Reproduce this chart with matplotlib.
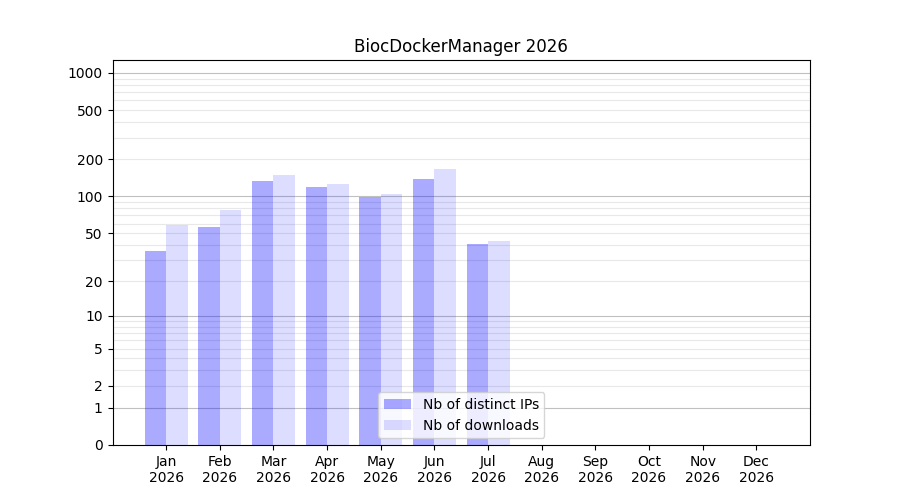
import numpy as np
import matplotlib
matplotlib.use("Agg")
import matplotlib.pyplot as plt

year = 2026
months = ["Jan", "Feb", "Mar", "Apr", "May", "Jun",
          "Jul", "Aug", "Sep", "Oct", "Nov", "Dec"]
nb_ips = [36, 56, 134, 119, 99, 139, 41, 0, 0, 0, 0, 0]
nb_downloads = [58, 78, 150, 126, 105, 167, 43, 0, 0, 0, 0, 0]

y_ticks = [0, 1, 2, 5, 10, 20, 50, 100, 200, 500, 1000]


def fwd(y):
    return np.log10(1 + np.clip(y, 0, None))


def inv(y):
    return 10 ** y - 1


fig, ax = plt.subplots(figsize=(9, 5), dpi=100)
ax.set_yscale("function", functions=(fwd, inv))

x = np.arange(len(months))
w = 0.4
ax.bar(x - w / 2, nb_ips, width=w, color="blue", alpha=1 / 3, label="Nb of distinct IPs")
ax.bar(x + w / 2, nb_downloads, width=w, color="blue", alpha=0.133, label="Nb of downloads")

# grille : foncée aux puissances de 10, claire ailleurs
for dec in [1, 10, 100]:
    for k in range(2, 10):
        ax.axhline(k * dec, color="#e8e8e8", lw=0.8, zorder=0)
for p in [1, 10, 100, 1000]:
    ax.axhline(p, color="#c0c0c0", lw=0.8, zorder=0)

ax.set_yticks(y_ticks)
ax.set_yticklabels([str(t) for t in y_ticks])
ax.minorticks_off()
ax.set_ylim(0, 1272)
ax.set_xlim(-1, 12)
ax.set_xticks(x)
ax.set_xticklabels([f"{m}\n{year}" for m in months])
ax.set_title(f"BiocDockerManager {year}")
ax.legend(loc="lower center")

plt.savefig("out.png", dpi=100)
